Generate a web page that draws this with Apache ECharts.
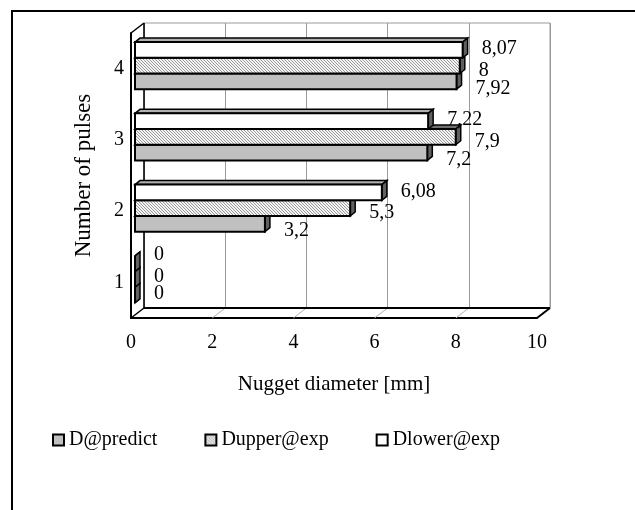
<!DOCTYPE html>
<html>
<head>
<meta charset="utf-8">
<style>
  html, body { margin: 0; padding: 0; background: #fff; }
  #chart { width: 635px; height: 510px; }
</style>
<script src="https://cdn.jsdelivr.net/npm/echarts@6/dist/echarts.min.js"></script>
</head>
<body>
<div id="chart"></div>
<script>
// number of pulses, bottom to top
const pulses = ['1', '2', '3', '4'];
// nugget diameter [mm]
const dPredict = [0, 3.2, 7.2, 7.92];
const dUpperExp = [0, 5.3, 7.9, 8];
const dLowerExp = [0, 6.08, 7.22, 8.07];
const xTicks = [0, 2, 4, 6, 8, 10];

const FONT = '"Liberation Serif", "Times New Roman", serif';
const DEPTH = [13, -10];     // depth of the 3d box (walls / floor)
const BAR_SHIFT = [4, -3];   // bar front face inside the box
const BAR_DEPTH = [5, -4];   // thickness of the bar caps
const LABEL_DY = [7, 5, -1]; // excel puts the labels a bit lower for lower bars

function hatchPattern() {
  const c = document.createElement('canvas');
  c.width = 3; c.height = 3;
  const g = c.getContext('2d');
  g.fillStyle = '#f4f4f4';
  g.fillRect(0, 0, 3, 3);
  g.fillStyle = '#9a9a9a';
  for (let i = 0; i < 3; i++) g.fillRect(i, i, 1, 1);
  return { image: c, repeat: 'repeat' };
}
const hatch = hatchPattern();

function barSeries(name, values, slot, fill, topFill) {
  return {
    type: 'custom',
    name: name,
    xAxisIndex: 1,
    yAxisIndex: 1,
    z: 3,
    itemStyle: { color: fill },
    encode: { x: 0, y: 1 },
    data: values.map((v, i) => [v, i]),
    renderItem(params, api) {
      const v = api.value(0), c = api.value(1);
      const p0 = api.coord([0, c]);
      const p1 = api.coord([v, c]);
      const h = api.size([0, 1])[1] * 0.22;
      const x0 = p0[0] + BAR_SHIFT[0];
      const x1 = p1[0] + BAR_SHIFT[0];
      const y0 = p0[1] + BAR_SHIFT[1] + 1.5 * h - (slot + 1) * h;
      const dx = BAR_DEPTH[0], dy = BAR_DEPTH[1];
      // empty bars sit close to the label column, excel lifts their labels
      const lift = v === 0 ? -8 : 0;
      return {
        type: 'group',
        children: [
          { type: 'polygon',
            shape: { points: [[x0, y0], [x0 + dx, y0 + dy], [x1 + dx, y0 + dy], [x1, y0]] },
            style: { fill: topFill, stroke: '#000', lineWidth: 1.5 } },
          { type: 'polygon',
            shape: { points: [[x1, y0], [x1 + dx, y0 + dy], [x1 + dx, y0 + h + dy], [x1, y0 + h]] },
            style: { fill: '#606060', stroke: '#000', lineWidth: 1.5 } },
          { type: 'rect',
            shape: { x: x0, y: y0, width: x1 - x0, height: h },
            style: { fill: fill, stroke: '#000', lineWidth: 2 } },
          { type: 'text',
            x: x1 + 19, y: y0 + h / 2 + LABEL_DY[slot] + lift,
            style: { text: String(v).replace('.', ','), fill: '#000',
                     fontSize: 20, fontFamily: FONT, align: 'left', verticalAlign: 'middle' } }
        ]
      };
    }
  };
}

// walls and floor of the excel 3d box
const boxSeries = {
  type: 'custom',
  xAxisIndex: 1,
  yAxisIndex: 1,
  silent: true,
  z: 1,
  data: [[0, 0]],
  renderItem(params, api) {
    const cs = params.coordSys;
    const L = cs.x, T = cs.y, R = cs.x + cs.width, B = cs.y + cs.height;
    const dx = DEPTH[0], dy = DEPTH[1];
    const els = [];
    const seg = (a, b, color, w) => els.push({
      type: 'line', shape: { x1: a[0], y1: a[1], x2: b[0], y2: b[1] },
      style: { stroke: color, lineWidth: w }
    });
    xTicks.slice(1, -1).forEach(t => {
      const x = api.coord([t, 0])[0];
      seg([x, B], [x + dx, B + dy], '#b0b0b0', 1);
    });
    seg([L + dx, T + dy], [L + dx, B + dy], '#000', 1.5);
    seg([L, T], [L + dx, T + dy], '#000', 1.5);
    seg([L, B], [L + dx, B + dy], '#000', 1.5);
    seg([L + dx, B + dy], [R + dx, B + dy], '#000', 2);
    seg([R, B], [R + dx, B + dy], '#000', 2);
    return { type: 'group', children: els };
  }
};

const chart = echarts.init(document.getElementById('chart'));
chart.setOption({
  animation: false,
  backgroundColor: '#fff',
  grid: [
    { left: 131 + DEPTH[0], top: 33 + DEPTH[1], width: 406, height: 285,
      show: true, borderColor: '#9a9a9a', borderWidth: 1 },
    { left: 131, top: 33, width: 406, height: 285 }
  ],
  xAxis: [
    { gridIndex: 0, type: 'value', min: xTicks[0], max: xTicks[xTicks.length - 1],
      interval: xTicks[1] - xTicks[0],
      axisLine: { show: false }, axisTick: { show: false }, axisLabel: { show: false },
      splitLine: { lineStyle: { color: '#9a9a9a', width: 1 } } },
    { gridIndex: 1, type: 'value', min: xTicks[0], max: xTicks[xTicks.length - 1],
      interval: xTicks[1] - xTicks[0],
      axisLine: { show: true, lineStyle: { color: '#000', width: 2 } },
      axisTick: { show: false }, splitLine: { show: false },
      axisLabel: { margin: 15, color: '#000', fontSize: 20, fontFamily: FONT },
      name: 'Nugget diameter [mm]', nameLocation: 'middle', nameGap: 56,
      nameTextStyle: { color: '#000', fontSize: 21, fontFamily: FONT } }
  ],
  yAxis: [
    { gridIndex: 0, type: 'category', data: pulses, show: false },
    { gridIndex: 1, type: 'category', data: pulses,
      axisLine: { show: true, lineStyle: { color: '#000', width: 2 } },
      axisTick: { show: false }, splitLine: { show: false },
      axisLabel: { margin: 7, color: '#000', fontSize: 20, fontFamily: FONT },
      name: 'Number of pulses', nameLocation: 'middle', nameGap: 36, nameRotate: 90,
      nameTextStyle: { color: '#000', fontSize: 23, fontFamily: FONT } }
  ],
  legend: {
    left: 47, top: 425,
    icon: 'rect', itemWidth: 11, itemHeight: 11, itemGap: 47,
    textStyle: { color: '#000', fontSize: 20, fontFamily: FONT },
    itemStyle: { borderColor: '#000', borderWidth: 2 },
    data: [
      { name: 'D@predict', itemStyle: { color: '#c0c0c0', borderColor: '#000', borderWidth: 2 } },
      { name: 'Dupper@exp', itemStyle: { color: hatch, borderColor: '#000', borderWidth: 2 } },
      { name: 'Dlower@exp', itemStyle: { color: '#fff', borderColor: '#000', borderWidth: 2 } }
    ]
  },
  graphic: [
    { type: 'polyline', silent: true,
      shape: { points: [[12, 520], [12, 11], [645, 11]] },
      style: { fill: null, stroke: '#000', lineWidth: 2 } }
  ],
  series: [
    boxSeries,
    barSeries('D@predict', dPredict, 0, '#c0c0c0', '#909090'),
    barSeries('Dupper@exp', dUpperExp, 1, hatch, '#707070'),
    barSeries('Dlower@exp', dLowerExp, 2, '#fff', '#b0b0b0')
  ]
});
</script>
</body>
</html>
